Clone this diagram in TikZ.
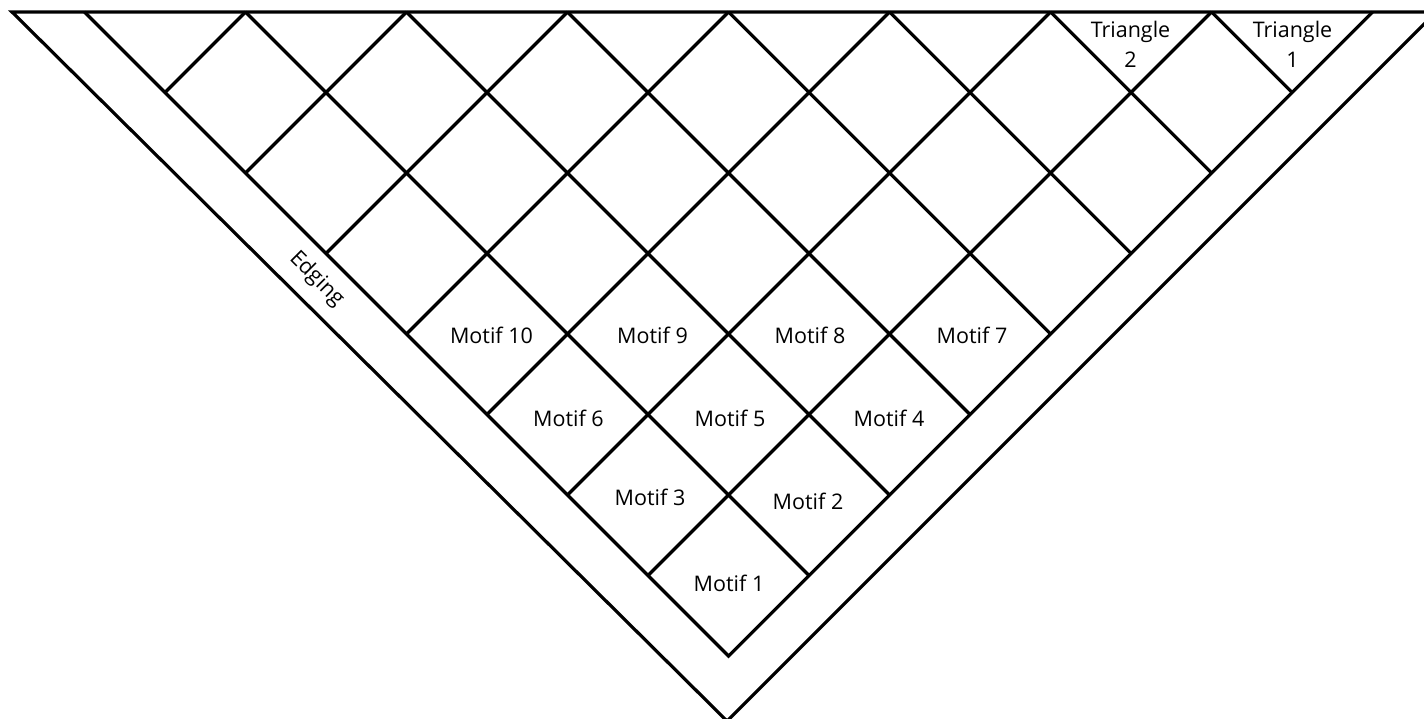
\documentclass[tikz,border=0pt]{standalone}
\usepackage{fontspec}
\setmainfont{Open Sans}
\begin{document}
\begin{tikzpicture}[x=1pt,y=-1pt,
  edge/.style={line width=3.2pt, line join=miter, line cap=butt},
  lbl/.style={font=\fontsize{21.5}{30}\selectfont, inner sep=0pt, align=center}]
\useasboundingbox (0,0) rectangle (1424,719);
\clip (0,0) rectangle (1424,719);
% outer triangle (edging)
\coordinate (OL) at (12,12);
\coordinate (OA) at (727,721);
\coordinate (OR) at (1436,12);
\draw[edge] (OR) -- (OL) -- (OA) -- (OR);
% inner triangle grid
\foreach \k in {0,...,8}{
  \coordinate (T\k) at (84.5+161*\k,12);
  \coordinate (L\k) at (84.5+80.5*\k,12+80.5*\k);
  \coordinate (R\k) at (84.5+80.5*\k+644,656-80.5*\k);
}
\draw[edge] (T0) -- (L8) -- (T8);
\foreach \k in {1,...,7}{
  \draw[edge] (T\k) -- (R\k);
  \draw[edge] (T\k) -- (L\k);
}
% labels
\node[lbl, rotate=-45] (edging) at (316.5,279) {Edging};
\node[lbl, anchor=north] (tri2) at (1130.5,20.5) {Triangle\\2};
\node[lbl, anchor=north] (tri1) at (1292.5,20.5) {Triangle\\1};
\node[lbl, anchor=base] (m10) at (491.5,343) {Motif 10};
\node[lbl, anchor=base] (m9) at (652.5,343) {Motif 9};
\node[lbl, anchor=base] (m8) at (810,343) {Motif 8};
\node[lbl, anchor=base] (m7) at (972,343) {Motif 7};
\node[lbl, anchor=base] (m6) at (568.5,426) {Motif 6};
\node[lbl, anchor=base] (m5) at (730,426) {Motif 5};
\node[lbl, anchor=base] (m4) at (889,426) {Motif 4};
\node[lbl, anchor=base] (m3) at (650,505) {Motif 3};
\node[lbl, anchor=base] (m2) at (808,509) {Motif 2};
\node[lbl, anchor=base] (m1) at (729,591) {Motif 1};
\end{tikzpicture}
\end{document}
